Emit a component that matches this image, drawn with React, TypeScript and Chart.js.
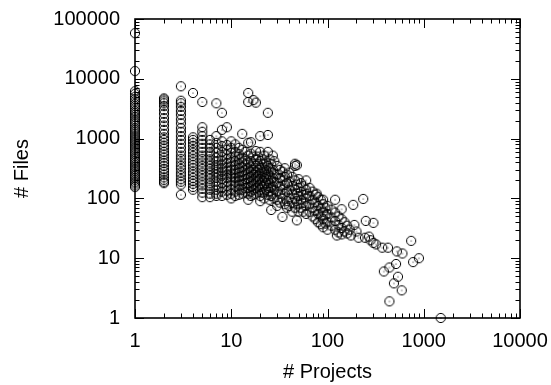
import React, { useEffect, useRef } from 'react';
import { Chart, registerables } from 'chart.js';

Chart.register(...registerables);

// Column data: number of projects (x) and the file counts observed at that x
const columnProjects = [
  1, 2, 3, 4, 5, 6, 7, 8, 9, 10, 11, 12, 13, 14, 15, 16, 17, 18, 19, 20, 21, 22, 23, 24, 25, 26, 27, 28,
  30, 32, 34, 36, 38, 40, 43, 46, 48, 50, 53, 56, 60, 61, 65, 70, 75, 77, 80, 85, 90, 95, 100, 110,
];
const columnFiles = [
  [58000, 13500, 6200, 5600, 5000, 4600, 4200, 3800, 3500, 3200, 2900, 2700, 2500, 2300, 2100, 1950, 1800, 1650, 1500, 1400, 1300, 1200, 1100, 1020, 950, 880, 820, 760, 700, 650, 600, 560, 520, 480, 450, 420, 390, 360, 335, 310, 290, 270, 250, 235, 220, 205, 190, 178, 165, 155],
  [4700, 4500, 4200, 3900, 3500, 3000, 2600, 2200, 1900, 1650, 1400, 1200, 1050, 950, 850, 760, 680, 600, 540, 480, 430, 390, 350, 310, 280, 250, 225, 205, 190, 180],
  [7500, 4300, 3900, 3400, 2900, 2500, 2100, 1800, 1500, 1300, 1100, 950, 820, 700, 600, 520, 460, 400, 350, 310, 270, 240, 210, 190, 170, 115],
  [5800, 1050, 950, 850, 750, 650, 580, 510, 450, 400, 360, 320, 280, 250, 220, 195, 175, 155, 140],
  [4100, 1550, 1300, 1100, 950, 820, 700, 600, 520, 460, 400, 350, 310, 270, 240, 210, 185, 165, 145, 125, 105],
  [950, 800, 700, 600, 520, 450, 400, 350, 310, 270, 240, 210, 180, 160, 140, 120, 105],
  [3900, 1100, 850, 700, 580, 480, 420, 360, 320, 280, 250, 220, 190, 165, 140, 120, 110],
  [2700, 1400, 900, 750, 600, 500, 430, 370, 320, 280, 240, 210, 180, 150, 130, 110],
  [1550, 780, 650, 540, 460, 390, 330, 290, 250, 220, 190, 160, 135, 115],
  [900, 700, 580, 480, 400, 340, 300, 260, 230, 200, 170, 140, 120, 100],
  [800, 600, 500, 420, 360, 300, 260, 220, 190, 160, 130, 110],
  [700, 550, 450, 380, 320, 270, 230, 200, 170, 140, 115],
  [1200, 650, 480, 400, 330, 280, 240, 200, 170, 140, 120],
  [600, 450, 370, 300, 250, 210, 180, 150, 125],
  [5800, 4100, 850, 520, 400, 320, 270, 220, 180, 150, 120, 95],
  [870, 560, 420, 340, 280, 230, 190, 160, 130, 110],
  [4400, 500, 380, 300, 250, 200, 170, 140, 115],
  [4000, 620, 450, 350, 280, 230, 190, 150, 120],
  [500, 380, 300, 240, 200, 160, 130],
  [1100, 600, 420, 320, 260, 210, 170, 140, 110, 90],
  [450, 330, 260, 200, 160, 125],
  [520, 380, 280, 220, 170, 130, 100],
  [400, 300, 230, 180, 140],
  [2700, 1150, 600, 350, 260, 200, 150, 115],
  [450, 320, 240, 180, 130, 95],
  [380, 280, 200, 150, 110, 64],
  [520, 300, 220, 160, 120],
  [420, 260, 190, 140, 100],
  [350, 250, 180, 130, 95, 75],
  [300, 220, 160, 120, 85],
  [280, 200, 140, 100, 49],
  [320, 230, 170, 120, 80],
  [250, 180, 130, 90, 70],
  [270, 190, 140, 100, 75],
  [230, 160, 120, 85, 60],
  [380, 350, 200, 140, 100, 70],
  [360, 170, 120, 90, 43],
  [210, 150, 110, 80, 60],
  [180, 130, 95, 70],
  [160, 115, 85, 60],
  [200, 140, 100, 75, 55],
  [120],
  [150, 110, 80, 60],
  [130, 95, 70, 50],
  [115, 85, 62, 45],
  [120],
  [105, 75, 55, 40],
  [95, 68, 50, 37],
  [95, 80, 60, 45, 33],
  [70, 52, 38],
  [75, 55, 40, 30],
  [65, 48, 35],
];

// Sparse tail of the distribution
const tailProjects = [
  120, 120, 120, 120, 125, 130, 130, 130, 140, 140, 140, 140, 150, 150, 160, 160, 170, 175, 185, 190,
  200, 210, 235, 250, 245, 270, 280, 300, 300, 320, 370, 425, 515, 525, 600, 740, 775, 890, 440, 385,
  540, 490, 590, 440, 1500,
];
const tailFiles = [
  95, 58, 42, 30, 24, 50, 36, 27, 66, 45, 32, 25, 40, 28, 26, 35, 30, 24, 78, 36,
  28, 22, 98, 42, 22, 23, 20, 39, 18, 17, 15, 15, 8, 13, 12, 19.5, 8.6, 10, 7, 6,
  4.9, 3.8, 2.9, 1.9, 1,
];

const xTickValues = [1, 10, 100, 1000, 10000];
const yTickValues = [1, 10, 100, 1000, 10000, 100000];
const minorMultipliers = [2, 3, 4, 5, 6, 7, 8, 9];

const FONT = "'Liberation Sans', Arial, Helvetica, sans-serif";

function buildPoints() {
  const pts: { x: number; y: number }[] = [];
  columnProjects.forEach((p, i) => {
    columnFiles[i].forEach((f) => pts.push({ x: p, y: f }));
  });
  tailProjects.forEach((p, i) => pts.push({ x: p, y: tailFiles[i] }));
  return pts;
}

function makeMarker(): HTMLCanvasElement {
  const c = document.createElement('canvas');
  c.width = 12;
  c.height = 12;
  const g = c.getContext('2d')!;
  g.strokeStyle = '#000';
  g.lineWidth = 1;
  g.beginPath();
  g.arc(6, 6, 4.6, 0, Math.PI * 2);
  g.stroke();
  g.fillStyle = '#000';
  g.beginPath();
  g.arc(6, 6, 0.6, 0, Math.PI * 2);
  g.fill();
  return c;
}

const framePlugin = {
  id: 'gnuplotFrame',
  afterDatasetsDraw(chart: any) {
    const { ctx, chartArea } = chart;
    const { left, right, top, bottom } = chartArea;
    const xs = chart.scales.x;
    const ys = chart.scales.y;
    ctx.save();
    ctx.strokeStyle = '#000';
    ctx.lineWidth = 1;
    const major = 9;
    const minor = 4.5;
    ctx.beginPath();
    for (let d = 1; d <= 10000; d *= 10) {
      [1, ...minorMultipliers].forEach((m) => {
        const v = d * m;
        if (v > 10000) return;
        const px = Math.round(xs.getPixelForValue(v)) + 0.5;
        const len = m === 1 ? major : minor;
        ctx.moveTo(px, bottom);
        ctx.lineTo(px, bottom - len);
        ctx.moveTo(px, top);
        ctx.lineTo(px, top + len);
      });
    }
    for (let d = 1; d <= 100000; d *= 10) {
      [1, ...minorMultipliers].forEach((m) => {
        const v = d * m;
        if (v > 100000) return;
        const py = Math.round(ys.getPixelForValue(v)) + 0.5;
        const len = m === 1 ? major : minor;
        ctx.moveTo(left, py);
        ctx.lineTo(left + len, py);
        ctx.moveTo(right, py);
        ctx.lineTo(right - len, py);
      });
    }
    ctx.stroke();
    ctx.lineWidth = 1.6;
    ctx.strokeRect(left, top, right - left, bottom - top);
    ctx.restore();
  },
};

export default function App() {
  const canvasRef = useRef<HTMLCanvasElement | null>(null);

  useEffect(() => {
    if (!canvasRef.current) return;
    const marker = makeMarker();
    const chart = new Chart(canvasRef.current, {
      type: 'scatter',
      data: {
        datasets: [
          {
            data: buildPoints(),
            pointStyle: marker as any,
            pointRadius: 5,
            borderColor: '#000',
            backgroundColor: 'rgba(0,0,0,0)',
            clip: false as any,
          },
        ],
      },
      options: {
        animation: false,
        responsive: true,
        maintainAspectRatio: false,
        layout: { padding: { left: 0, right: 31, top: 19, bottom: 0 } },
        plugins: { legend: { display: false }, tooltip: { enabled: false } },
        scales: {
          x: {
            type: 'logarithmic',
            min: 1,
            max: 10000,
            afterBuildTicks: (s: any) => {
              s.ticks = xTickValues.map((v) => ({ value: v }));
            },
            afterFit: (s: any) => {
              s.height = 67;
              s.paddingLeft = 0;
              s.paddingRight = 0;
              s.paddingTop = 0;
              s.paddingBottom = 0;
            },
            grid: { display: false, drawTicks: false },
            border: { display: false },
            ticks: {
              color: '#000',
              font: { family: FONT, size: 20 },
              padding: 11,
              maxRotation: 0,
              autoSkip: false,
              callback: (v: any) => String(v),
            },
            title: {
              display: true,
              text: '# Projects',
              color: '#000',
              font: { family: FONT, size: 20 },
              padding: { top: 0, bottom: 1 },
            },
          },
          y: {
            type: 'logarithmic',
            min: 1,
            max: 100000,
            afterBuildTicks: (s: any) => {
              s.ticks = yTickValues.map((v) => ({ value: v }));
            },
            afterFit: (s: any) => {
              s.width = 135;
              s.paddingLeft = 0;
              s.paddingRight = 0;
              s.paddingTop = 0;
              s.paddingBottom = 0;
            },
            grid: { display: false, drawTicks: false },
            border: { display: false },
            ticks: {
              color: '#000',
              font: { family: FONT, size: 20 },
              padding: 15,
              autoSkip: false,
              callback: (v: any) => String(v),
            },
            title: {
              display: true,
              text: '# Files',
              color: '#000',
              font: { family: FONT, size: 20 },
              padding: { top: 10, bottom: 0 },
            },
          },
        },
      },
      plugins: [framePlugin],
    });
    return () => chart.destroy();
  }, []);

  return (
    <div style={{ position: 'fixed', left: 0, top: 0, width: 551, height: 385, background: '#fff' }}>
      <canvas ref={canvasRef} />
    </div>
  );
}
